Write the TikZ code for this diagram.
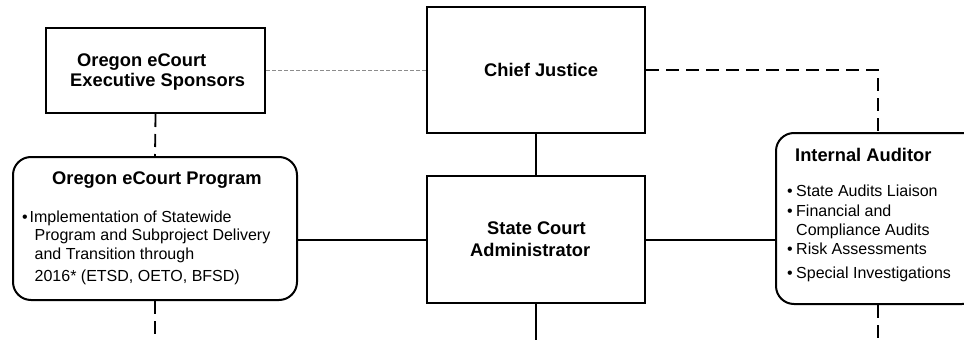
\documentclass[tikz,border=0pt]{standalone}
\usepackage{fontspec}
\setmainfont{Liberation Sans}
\begin{document}
\begin{tikzpicture}[x=1pt,y=-1pt,
  box/.style={draw=black,line width=2pt,rectangle,inner sep=0pt},
  rbox/.style={box,rounded corners=18pt},
  ttl/.style={inner sep=0pt,anchor=base west,font=\fontsize{18.3}{20}\selectfont\bfseries},
  txt/.style={inner sep=0pt,anchor=base west,font=\fontsize{16}{18}\selectfont},
  bul/.style={inner sep=0pt,anchor=base west,font=\fontsize{16}{18}\selectfont},
  solidline/.style={draw=black,line width=2pt},
  dashline/.style={draw=black,line width=1.8pt,dash pattern=on 13pt off 7pt},
  grayline/.style={draw=black!45,line width=1.1pt,dash pattern=on 4pt off 2pt}]
\useasboundingbox (0,0) rectangle (964,340);
\clip (0,0) rectangle (964,340);
% boxes
\node[box,minimum width=219pt,minimum height=85pt] (spons) at (155.5,70.5) {};
\node[box,minimum width=218pt,minimum height=126pt] (cj) at (536,70) {};
\node[box,minimum width=218pt,minimum height=127pt] (sca) at (536,239.5) {};
\node[rbox,minimum width=284pt,minimum height=143pt] (prog) at (155,228.5) {};
\node[rbox,minimum width=204pt,minimum height=171pt] (aud) at (878,218.5) {};
% texts
\node[ttl] (s1) at (77,66.7) {Oregon eCourt};
\node[ttl] (s2) at (70,86.7) {Executive Sponsors};
\node[ttl] (cjt) at (484,76.7) {Chief Justice};
\node[ttl] (sca1) at (487,234) {State Court};
\node[ttl] (sca2) at (470,256) {Administrator};
\node[ttl] (pt) at (52,184) {Oregon eCourt Program};
\node[bul] (pb1) at (22,222) {•};
\node[txt] (p1) at (29.5,222) {Implementation of Statewide};
\node[txt] (p2) at (34.5,240) {Program and Subproject Delivery};
\node[txt] (p3) at (34.5,259) {and Transition through};
\node[txt] (p4) at (34.5,281) {2016* (ETSD, OETO, BFSD)};
\node[ttl] (at) at (795,161.7) {Internal Auditor};
\node[bul] (ab1) at (787,196) {•};
\node[txt] (a1) at (796,196) {State Audits Liaison};
\node[bul] (ab2) at (787,216) {•};
\node[txt] (a2) at (796,216) {Financial and};
\node[txt] (a3) at (796,235) {Compliance Audits};
\node[bul] (ab3) at (787,254) {•};
\node[txt] (a4) at (796,254) {Risk Assessments};
\node[bul] (ab4) at (787,278) {•};
\node[txt] (a5) at (796,278) {Special Investigations};
% free ends
\coordinate (progend) at (155,340);
\coordinate (scaend) at (536,340);
\coordinate (audend) at (878,340);
% connectors
\draw[grayline] (spons.east) -- (spons.east -| cj.west);
\draw[dashline] (spons.south) -- (prog.north);
\draw[solidline] (cj.south) -- (sca.north);
\draw[solidline] (sca.west -| prog.east) -- (sca.west);
\draw[solidline] (sca.east) -- (sca.east -| aud.west);
\draw[dashline] (cj.east) -| (aud.north);
\draw[dashline] (prog.south) -- (progend);
\draw[solidline] (sca.south) -- (scaend);
\draw[dashline] (aud.south) -- (audend);
\end{tikzpicture}
\end{document}
